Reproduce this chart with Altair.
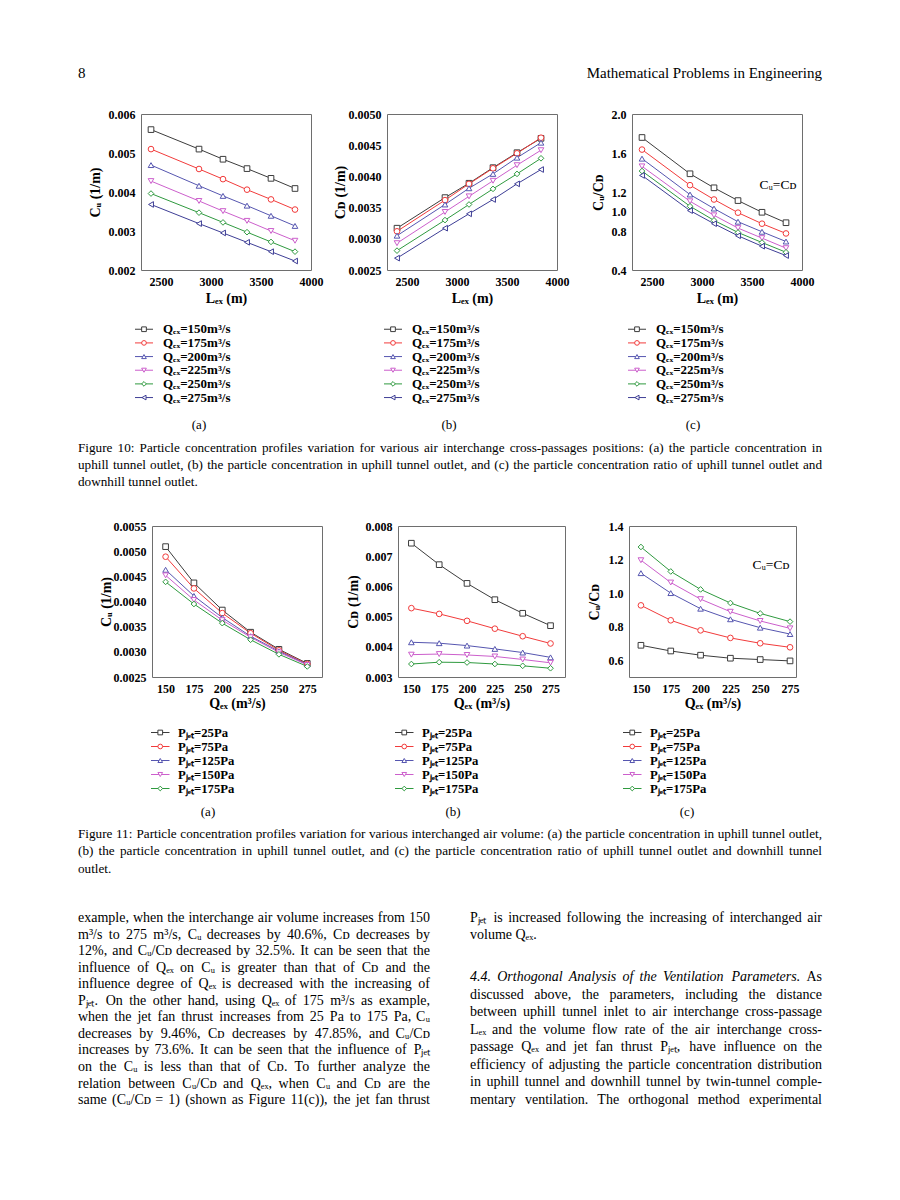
import altair as alt
import pandas as pd

SERIF = "Liberation Serif"

# ---------------- data ----------------
L_EX = [2400, 2880, 3120, 3360, 3600, 3840]
Q_EX = [150, 175, 200, 225, 250, 275]

Q_NAMES = ["Qₑₓ=150m³/s", "Qₑₓ=175m³/s", "Qₑₓ=200m³/s",
           "Qₑₓ=225m³/s", "Qₑₓ=250m³/s", "Qₑₓ=275m³/s"]
P_NAMES = ["Pⱼₑₜ=25Pa", "Pⱼₑₜ=75Pa", "Pⱼₑₜ=125Pa", "Pⱼₑₜ=150Pa", "Pⱼₑₜ=175Pa"]

COLORS6 = ["#3c3c3c", "#f23b3b", "#5656b0", "#cc5fcc", "#2f9a3f", "#3e3e96"]
SHAPES6 = ["square", "circle", "triangle-up", "triangle-down", "diamond", "triangle-left"]

# Figure 10(a): C_U vs L_ex
cu10_q150 = [0.00560, 0.00510, 0.00484, 0.00460, 0.00435, 0.00409]
cu10_q175 = [0.00510, 0.00459, 0.00433, 0.00406, 0.00381, 0.00355]
cu10_q200 = [0.00469, 0.00416, 0.00390, 0.00365, 0.00339, 0.00313]
cu10_q225 = [0.00428, 0.00377, 0.00351, 0.00326, 0.00300, 0.00275]
cu10_q250 = [0.00396, 0.00347, 0.00322, 0.00297, 0.00272, 0.00247]
cu10_q275 = [0.00368, 0.00319, 0.00295, 0.00271, 0.00247, 0.00223]

# Figure 10(b): C_D vs L_ex
cd10_q150 = [0.00317, 0.00366, 0.00389, 0.00414, 0.00438, 0.00461]
cd10_q175 = [0.00312, 0.00362, 0.00388, 0.00413, 0.00437, 0.00462]
cd10_q200 = [0.00305, 0.00355, 0.00381, 0.00404, 0.00430, 0.00454]
cd10_q225 = [0.00293, 0.00343, 0.00368, 0.00393, 0.00418, 0.00442]
cd10_q250 = [0.00281, 0.00330, 0.00355, 0.00380, 0.00404, 0.00429]
cd10_q275 = [0.00269, 0.00317, 0.00340, 0.00363, 0.00388, 0.00411]

# Figure 10(c): C_U/C_D vs L_ex
r10_q150 = [1.759, 1.387, 1.243, 1.112, 0.992, 0.885]
r10_q175 = [1.635, 1.270, 1.123, 0.988, 0.875, 0.775]
r10_q200 = [1.542, 1.174, 1.030, 0.895, 0.792, 0.692]
r10_q225 = [1.463, 1.105, 0.961, 0.830, 0.727, 0.624]
r10_q250 = [1.415, 1.054, 0.909, 0.785, 0.682, 0.582]
r10_q275 = [1.370, 1.009, 0.875, 0.751, 0.644, 0.548]

# Figure 11(a): C_U vs Q_ex
cu11_p25 = [0.00509, 0.00437, 0.00383, 0.00339, 0.00305, 0.00277]
cu11_p75 = [0.00489, 0.00426, 0.00377, 0.00337, 0.00303, 0.00276]
cu11_p125 = [0.00463, 0.00411, 0.00368, 0.00331, 0.00301, 0.00275]
cu11_p150 = [0.00452, 0.00403, 0.00363, 0.00329, 0.00299, 0.00274]
cu11_p175 = [0.00439, 0.00395, 0.00357, 0.00324, 0.00295, 0.00271]

# Figure 11(b): C_D vs Q_ex
cd11_p25 = [0.00743, 0.00672, 0.00610, 0.00556, 0.00511, 0.00470]
cd11_p75 = [0.00528, 0.00509, 0.00486, 0.00460, 0.00435, 0.00411]
cd11_p125 = [0.00415, 0.00412, 0.00404, 0.00393, 0.00381, 0.00365]
cd11_p150 = [0.00374, 0.00376, 0.00373, 0.00368, 0.00358, 0.00347]
cd11_p175 = [0.00343, 0.00349, 0.00348, 0.00343, 0.00337, 0.00329]

# Figure 11(c): C_U/C_D vs Q_ex
r11_p25 = [0.689, 0.655, 0.630, 0.612, 0.604, 0.596]
r11_p75 = [0.927, 0.838, 0.778, 0.733, 0.701, 0.677]
r11_p125 = [1.119, 1.000, 0.907, 0.844, 0.794, 0.756]
r11_p150 = [1.196, 1.063, 0.964, 0.889, 0.834, 0.790]
r11_p175 = [1.275, 1.129, 1.022, 0.941, 0.879, 0.830]

HEADER_LEFT = "8"
HEADER_RIGHT = "Mathematical Problems in Engineering"

CAPTION10 = [
    "Figure 10: Particle concentration profiles variation for various air interchange cross-passages positions: (a) the particle concentration in",
    "uphill tunnel outlet, (b) the particle concentration in uphill tunnel outlet, and (c) the particle concentration ratio of uphill tunnel outlet and",
    "downhill tunnel outlet.",
]
CAPTION11 = [
    "Figure 11: Particle concentration profiles variation for various interchanged air volume: (a) the particle concentration in uphill tunnel outlet,",
    "(b) the particle concentration in uphill tunnel outlet, and (c) the particle concentration ratio of uphill tunnel outlet and downhill tunnel",
    "outlet.",
]
BODY_LEFT = [
    "example, when the interchange air volume increases from 150",
    "m³/s to 275 m³/s, Cᵤ decreases by 40.6%, Cᴅ decreases by",
    "12%, and Cᵤ/Cᴅ decreased by 32.5%. It can be seen that the",
    "influence of Qₑₓ on Cᵤ is greater than that of Cᴅ and the",
    "influence degree of Qₑₓ is decreased with the increasing of",
    "Pⱼₑₜ. On the other hand, using Qₑₓ of 175 m³/s as example,",
    "when the jet fan thrust increases from 25 Pa to 175 Pa, Cᵤ",
    "decreases by 9.46%, Cᴅ decreases by 47.85%, and Cᵤ/Cᴅ",
    "increases by 73.6%. It can be seen that the influence of Pⱼₑₜ",
    "on the Cᵤ is less than that of Cᴅ. To further analyze the",
    "relation between Cᵤ/Cᴅ and Qₑₓ, when Cᵤ and Cᴅ are the",
    "same (Cᵤ/Cᴅ = 1) (shown as Figure 11(c)), the jet fan thrust",
]
BODY_RIGHT_TOP = [
    "Pⱼₑₜ is increased following the increasing of interchanged air",
    "volume Qₑₓ.",
]
HEADING = "4.4. Orthogonal Analysis of the Ventilation Parameters."
HEADING_TAIL = "As"
BODY_RIGHT = [
    "discussed above, the parameters, including the distance",
    "between uphill tunnel inlet to air interchange cross-passage",
    "Lₑₓ and the volume flow rate of the air interchange cross-",
    "passage Qₑₓ and jet fan thrust Pⱼₑₜ, have influence on the",
    "efficiency of adjusting the particle concentration distribution",
    "in uphill tunnel and downhill tunnel by twin-tunnel comple-",
    "mentary ventilation. The orthogonal method experimental",
]

# Times-compatible advance widths (1/1000 em) used only to justify text lines
_REG = dict(zip(
    " !%(),-./0123456789:;=?ABCDEFGHIJKLMNOPQRSTUVWXYZabcdefghijklmnopqrstuvwxyz³",
    [250, 333, 833, 333, 333, 250, 333, 250, 278] + [500] * 10 +
    [278, 278, 564, 444,
     722, 667, 667, 722, 611, 556, 722, 722, 333, 389, 722, 611, 889, 722, 722, 556,
     722, 667, 556, 611, 722, 722, 944, 722, 722, 611,
     444, 500, 444, 500, 444, 333, 500, 500, 278, 278, 500, 278, 778, 500, 500, 500,
     500, 333, 389, 278, 500, 500, 722, 500, 500, 444, 300]))
_ITA = dict(_REG)
_ITA.update(dict(zip(
    "ABCDEFGHIJKLMNOPQRSTUVWXYZabcdefghijklmnopqrstuvwxyz",
    [611, 611, 667, 722, 611, 611, 722, 722, 333, 444, 667, 556, 833, 667, 722, 611,
     722, 611, 500, 556, 722, 611, 833, 611, 556, 556,
     500, 500, 444, 500, 444, 278, 500, 500, 278, 278, 444, 278, 722, 500, 500, 500,
     500, 389, 389, 278, 500, 444, 667, 444, 444, 389])))
_SUBS = "ₑₓⱼₜᵤ"


def text_w(s, size, italic=False):
    tbl = _ITA if italic else _REG
    tot = 0
    for ch in s:
        if ch in _SUBS:
            tot += 240
        elif ch == "ᴅ":
            tot += 520
        else:
            tot += tbl.get(ch, 500)
    return tot * size / 1000.0


def item(text, x, y, size, align="left", style="normal", weight="normal"):
    return {"text": text, "x": x, "y": y, "size": size, "align": align,
            "style": style, "weight": weight}


def justify(words, x0, x1, y, size, out):
    """words: list of (word, style). Spread words so the line fills x0..x1."""
    if len(words) == 1:
        out.append(item(words[0][0], x0, y, size, style=words[0][1]))
        return
    ws = [text_w(w, size, st == "italic") for w, st in words]
    gap = (x1 - x0 - sum(ws)) / (len(words) - 1)
    x = x0
    for k, ((w, st), ww) in enumerate(zip(words, ws)):
        if k == len(words) - 1:
            out.append(item(w, x1, y, size, align="right", style=st))
        else:
            out.append(item(w, x, y, size, style=st))
        x += ww + gap


def para(lines, x0, x1, ys, size, out, last_plain=True):
    for k, (ln, y) in enumerate(zip(lines, ys)):
        if last_plain and k == len(lines) - 1:
            out.append(item(ln, x0, y, size))
        else:
            justify([(w, "normal") for w in ln.split(" ")], x0, x1, y, size, out)


# ---------------- builders ----------------
def panel(xv, series, names, colors, shapes, xdom, xticks, xtitle,
          ydom, yticks, yfmt, ytitle, w, h, ytx, xty, note=None):
    rows = []
    for nm, vals in zip(names, series):
        for a, b in zip(xv, vals):
            rows.append({"x": a, "y": b, "s": nm})
    df = pd.DataFrame(rows)
    X = alt.X("x:Q", scale=alt.Scale(domain=xdom, nice=False, zero=False),
              axis=alt.Axis(values=xticks, format="d", title=xtitle,
                            titleY=xty, titleBaseline="middle",
                            labelOverlap=False, labelFlush=False))
    Y = alt.Y("y:Q", scale=alt.Scale(domain=ydom, nice=False, zero=False),
              axis=alt.Axis(values=yticks, format=yfmt, title=ytitle,
                            titleX=ytx, titleY=h / 2, titleAngle=270,
                            titleBaseline="middle", titleAlign="center",
                            labelOverlap=False, labelFlush=False))
    cs = alt.Scale(domain=names, range=colors)
    ss = alt.Scale(domain=names, range=shapes)
    line = alt.Chart(df).mark_line(strokeWidth=1).encode(
        X, Y, color=alt.Color("s:N", scale=cs, legend=None))
    pts = alt.Chart(df).mark_point(filled=True, size=32, strokeWidth=1, opacity=1).encode(
        X, Y, fill=alt.value("white"),
        stroke=alt.Stroke("s:N", scale=cs, legend=None),
        shape=alt.Shape("s:N", scale=ss, legend=None))
    layers = [line, pts]
    if note is not None:
        ndf = pd.DataFrame([{"x": note[0], "y": note[1], "t": note[2]}])
        layers.append(alt.Chart(ndf).mark_text(font=SERIF, fontSize=13.5, color="black").encode(
            X, Y, text="t:N"))
    return alt.layer(*layers).properties(
        width=w, height=h, view=alt.ViewBackground(stroke="#6e6e6e", strokeWidth=1))


def spacer(w, h):
    return alt.Chart(pd.DataFrame({"t": [""]})).mark_text().encode(
        text="t:N").properties(width=w, height=h)


def legend(names, colors, shapes, w, h, line_w, text_x, fs):
    df = pd.DataFrame({"lab": names})
    cs = alt.Scale(domain=names, range=colors)
    ss = alt.Scale(domain=names, range=shapes)
    Y = alt.Y("lab:N", sort=names, axis=None, scale=alt.Scale(padding=0.5))
    base = alt.Chart(df)
    rule = base.mark_rule(strokeWidth=1).encode(
        y=Y, x=alt.value(0), x2=alt.value(line_w),
        color=alt.Color("lab:N", scale=cs, legend=None))
    pts = base.mark_point(filled=True, size=22, strokeWidth=1, opacity=1).encode(
        y=Y, x=alt.value(line_w / 2), fill=alt.value("white"),
        stroke=alt.Stroke("lab:N", scale=cs, legend=None),
        shape=alt.Shape("lab:N", scale=ss, legend=None))
    txt = base.mark_text(align="left", baseline="middle", font=SERIF,
                         fontWeight="bold", fontSize=fs, color="black").encode(
        y=Y, x=alt.value(text_x), text="lab:N")
    return alt.layer(rule, pts, txt).properties(width=w, height=h)


def text_block(items, w, h):
    df = pd.DataFrame(items)
    groups = df.groupby(["align", "style", "weight"], sort=False)
    layers = []
    for (al, st, wt), g in groups:
        layers.append(alt.Chart(g.reset_index(drop=True)).mark_text(
            align=al, baseline="middle", font=SERIF, fontStyle=st,
            fontWeight=wt, color="black").encode(
            x=alt.X("x:Q", scale=alt.Scale(domain=[0, w], nice=False, zero=False), axis=None),
            y=alt.Y("y:Q", scale=alt.Scale(domain=[h, 0], nice=False, zero=False), axis=None),
            size=alt.Size("size:Q", scale=None, legend=None),
            text="text:N"))
    return alt.layer(*layers).properties(width=w, height=h)


W = 884
LX0, LX1 = 70, 422     # left text column
RX0, RX1 = 462, 814    # right text column
CX0, CX1 = 70, 814     # full width

# ---------------- row 1: header ----------------
r1 = text_block([item(HEADER_LEFT, 70, 65, 15),
                 item(HEADER_RIGHT, 814, 65, 15, align="right")], W, 99)

# ---------------- row 2: figure 10 plots ----------------
H10 = 156
p10a = panel(L_EX, [cu10_q150, cu10_q175, cu10_q200, cu10_q225, cu10_q250, cu10_q275],
             Q_NAMES, COLORS6, SHAPES6, [2300, 4000], [2500, 3000, 3500, 4000], "Lₑₓ (m)",
             [0.002, 0.006], [0.002, 0.003, 0.004, 0.005, 0.006], ".3f", "Cᵤ (1/m)",
             170, H10, -46, 28)
p10b = panel(L_EX, [cd10_q150, cd10_q175, cd10_q200, cd10_q225, cd10_q250, cd10_q275],
             Q_NAMES, COLORS6, SHAPES6, [2300, 4000], [2500, 3000, 3500, 4000], "Lₑₓ (m)",
             [0.0025, 0.005], [0.0025, 0.003, 0.0035, 0.004, 0.0045, 0.005], ".4f", "Cᴅ (1/m)",
             170, H10, -47, 28)
p10c = panel(L_EX, [r10_q150, r10_q175, r10_q200, r10_q225, r10_q250, r10_q275],
             Q_NAMES, COLORS6, SHAPES6, [2300, 4000], [2500, 3000, 3500, 4000], "Lₑₓ (m)",
             [0.4, 2.0], [0.4, 0.8, 1.0, 1.2, 1.6, 2.0], ".1f", "Cᵤ/Cᴅ",
             170, H10, -34, 28, note=(3760, 1.27, "Cᵤ=Cᴅ"))
r2 = alt.hconcat(spacer(133, 204.6), p10a, spacer(76, 10), p10b, spacer(75, 10), p10c,
                 spacing=0, bounds="flush")

# ---------------- row 3: figure 10 legends ----------------
LEGH10 = 88.8
r3 = alt.hconcat(
    spacer(127, LEGH10), legend(Q_NAMES, COLORS6, SHAPES6, 120, LEGH10, 18, 28, 13),
    spacer(129, LEGH10), legend(Q_NAMES, COLORS6, SHAPES6, 120, LEGH10, 18, 28, 13),
    spacer(124, LEGH10), legend(Q_NAMES, COLORS6, SHAPES6, 120, LEGH10, 18, 28, 13),
    spacing=0, bounds="flush")

# ---------------- row 4: sub labels + caption 10 ----------------
R4H = 110.6
r4_items = [item("(a)", 191, 16.6, 13, align="center"),
            item("(b)", 441, 16.6, 13, align="center"),
            item("(c)", 685, 16.6, 13, align="center")]
para(CAPTION10, CX0, CX1, [39.6 + 17 * i for i in range(3)], 13.2, r4_items)
r4 = text_block(r4_items, W, R4H)

# ---------------- row 5: figure 11 plots ----------------
H11 = 151
p11a = panel(Q_EX, [cu11_p25, cu11_p75, cu11_p125, cu11_p150, cu11_p175],
             P_NAMES, COLORS6[:5], SHAPES6[:5], [138, 288], [150, 175, 200, 225, 250, 275],
             "Qₑₓ (m³/s)", [0.0025, 0.0055],
             [0.0025, 0.003, 0.0035, 0.004, 0.0045, 0.005, 0.0055], ".4f", "Cᵤ (1/m)",
             170, H11, -46, 26)
p11b = panel(Q_EX, [cd11_p25, cd11_p75, cd11_p125, cd11_p150, cd11_p175],
             P_NAMES, COLORS6[:5], SHAPES6[:5], [138, 288], [150, 175, 200, 225, 250, 275],
             "Qₑₓ (m³/s)", [0.003, 0.008],
             [0.003, 0.004, 0.005, 0.006, 0.007, 0.008], ".3f", "Cᴅ (1/m)",
             167, H11, -45, 26)
p11c = panel(Q_EX, [r11_p25, r11_p75, r11_p125, r11_p150, r11_p175],
             P_NAMES, COLORS6[:5], SHAPES6[:5], [140, 280], [150, 175, 200, 225, 250, 275],
             "Qₑₓ (m³/s)", [0.5, 1.4], [0.6, 0.8, 1.0, 1.2, 1.4], ".1f", "Cᵤ/Cᴅ",
             167, H11, -35, 26, note=(259, 1.167, "Cᵤ=Cᴅ"))
r5 = alt.hconcat(spacer(143.7, 196), p11a, spacer(75.6, 10), p11b, spacer(64, 10), p11c,
                 spacing=0, bounds="flush")

# ---------------- row 6: figure 11 legends ----------------
LEGH11 = 77
r6 = alt.hconcat(
    spacer(143, LEGH11), legend(P_NAMES, COLORS6[:5], SHAPES6[:5], 110, LEGH11, 18.5, 27, 12.7),
    spacer(134, LEGH11), legend(P_NAMES, COLORS6[:5], SHAPES6[:5], 110, LEGH11, 18.5, 27, 12.7),
    spacer(118, LEGH11), legend(P_NAMES, COLORS6[:5], SHAPES6[:5], 110, LEGH11, 18.5, 27, 12.7),
    spacing=0, bounds="flush")

# ---------------- row 7: labels, caption 11, body text ----------------
R7H = 396
r7_items = [item("(a)", 200, 13, 13, align="center"),
            item("(b)", 445, 13, 13, align="center"),
            item("(c)", 679, 13, 13, align="center")]
para(CAPTION11, CX0, CX1, [35 + 17.3 * i for i in range(3)], 13.2, r7_items)

BODY_TOP, LEAD = 119, 16.55
BODY_FS = 14
para(BODY_LEFT, LX0, LX1, [BODY_TOP + LEAD * i for i in range(len(BODY_LEFT))],
     BODY_FS, r7_items, last_plain=False)
para(BODY_RIGHT_TOP, RX0, RX1, [BODY_TOP, BODY_TOP + 16.6], BODY_FS, r7_items)
HEAD_Y = 178
justify([(w, "italic") for w in HEADING.split(" ")] + [(HEADING_TAIL, "normal")],
        RX0, RX1, HEAD_Y, BODY_FS, r7_items)
RLEAD = (BODY_TOP + LEAD * 11 - HEAD_Y) / 7.0
para(BODY_RIGHT, RX0, RX1, [HEAD_Y + RLEAD * (i + 1) for i in range(len(BODY_RIGHT))],
     BODY_FS, r7_items, last_plain=False)
r7 = text_block(r7_items, W, R7H)

chart = alt.vconcat(r1, r2, r3, r4, r5, r6, r7, spacing=0).properties(
    padding=0, background="white"
).configure_view(stroke=None).configure_axis(
    labelFont=SERIF, labelFontWeight="bold", labelFontSize=12, labelColor="black",
    titleFont=SERIF, titleFontWeight="bold", titleFontSize=14, titleColor="black",
    ticks=False, tickSize=0, domain=False, grid=False, labelPadding=6,
    labelOverlap=False)

chart.save("out.html", embed_options={"renderer": "svg", "actions": False})
